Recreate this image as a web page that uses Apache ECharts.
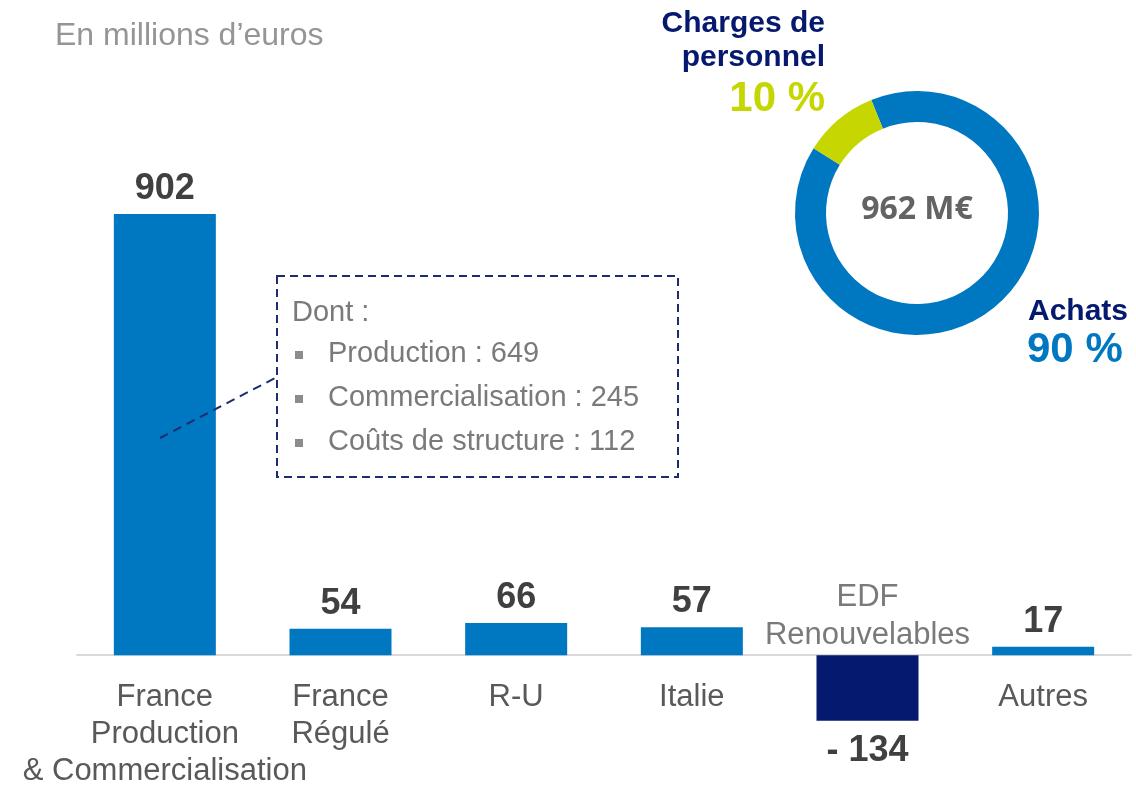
<!DOCTYPE html>
<html>
<head>
<meta charset="utf-8">
<script src="https://cdn.jsdelivr.net/npm/echarts@6/dist/echarts.min.js"></script>
<style>
  html, body { margin: 0; padding: 0; background: #fff; }
  #chart { width: 1136px; height: 785px; }
</style>
</head>
<body>
<div id="chart"></div>
<script>
// données
const categories = ['France\nProduction\n& Commercialisation', 'France\nRégulé', 'R-U', 'Italie', 'EDF\nRenouvelables', 'Autres'];
const values = [902, 54, 66, 57, -134, 17];
const splitNames = ['Achats', 'Charges de\npersonnel'];
const splitShares = [90, 10];
const totalLabel = '962 M€';
const detailNames = ['Production', 'Commercialisation', 'Coûts de structure'];
const detailValues = [649, 245, 112];

const BLUE = '#0078c1';
const NAVY = '#051a6e';
const GREEN = '#c5d600';
const FONT = '"Liberation Sans", Arial, sans-serif';

const Y_MIN = -200, Y_MAX = 1000;
const GRID_TOP = 166, GRID_BOTTOM = 32, H = 785;
// décale l'axe des catégories sur la ligne du zéro
const gridH = H - GRID_TOP - GRID_BOTTOM;
const zeroOffset = -gridH * (-Y_MIN) / (Y_MAX - Y_MIN);

const chart = echarts.init(document.getElementById('chart'));

// barres : couleur foncée + étiquette en dessous pour la valeur négative
const barData = values.map(v => {
  const item = { value: v, itemStyle: { color: v < 0 ? NAVY : BLUE } };
  if (v < 0) item.label = { position: 'bottom', distance: 12 };
  return item;
});

// le libellé d'une catégorie négative passe au-dessus de l'axe
const aboveLabels = values.map(v => (v < 0 ? 0 : '-'));

// encadré "Dont :"
const boxText = [
  { type: 'text', x: 292, y: 313, style: { text: 'Dont :', font: '29px ' + FONT, fill: '#7a7a7a', textVerticalAlign: 'middle' } }
];
detailNames.forEach((n, i) => {
  const y = [354, 398, 442][i];
  boxText.push({ type: 'rect', shape: { x: 295, y: y - 3, width: 8, height: 8 }, style: { fill: '#8c8c8c' } });
  boxText.push({ type: 'text', x: 328, y: y, style: { text: n + ' : ' + detailValues[i], font: '29px ' + FONT, fill: '#7a7a7a', textVerticalAlign: 'middle' } });
});

const option = {
  animation: false,
  backgroundColor: '#fff',
  grid: { left: 77, right: 5, top: GRID_TOP, bottom: GRID_BOTTOM, containLabel: false, outerBoundsMode: 'none' },
  xAxis: {
    type: 'category',
    data: categories,
    offset: zeroOffset,
    axisTick: { show: false },
    axisLine: { onZero: false, lineStyle: { color: '#d9d9d9', width: 2 } },
    axisLabel: {
      interval: 0,
      margin: 24,
      color: '#595959',
      fontSize: 31,
      lineHeight: 37,
      fontFamily: FONT,
      formatter: (val, idx) => (values[idx] < 0 ? '' : val)
    }
  },
  yAxis: {
    type: 'value',
    min: Y_MIN,
    max: Y_MAX,
    show: false,
    splitLine: { show: false }
  },
  series: [
    {
      type: 'bar',
      data: barData,
      barWidth: 102,
      silent: true,
      label: {
        show: true,
        position: 'top',
        distance: 7,
        color: '#404040',
        fontSize: 36,
        fontWeight: 'bold',
        fontFamily: FONT,
        formatter: p => (p.value < 0 ? '- ' + Math.abs(p.value) : String(p.value))
      }
    },
    {
      type: 'scatter',
      data: aboveLabels,
      symbolSize: 1,
      itemStyle: { color: 'rgba(0,0,0,0)' },
      silent: true,
      label: {
        show: true,
        position: 'top',
        distance: 0,
        color: '#595959',
        fontSize: 31,
        lineHeight: 38,
        fontFamily: FONT,
        formatter: p => categories[p.dataIndex]
      }
    },
    {
      type: 'pie',
      center: [917, 213],
      radius: [91, 122],
      startAngle: 112,
      clockwise: true,
      silent: true,
      label: { show: false },
      labelLine: { show: false },
      itemStyle: { borderWidth: 0 },
      data: splitNames.map((n, i) => ({ name: n, value: splitShares[i], itemStyle: { color: i === 0 ? BLUE : GREEN } }))
    }
  ],
  graphic: [
    { type: 'text', x: 55, y: 36, style: { text: 'En millions d’euros', font: '32px ' + FONT, fill: '#959595', textVerticalAlign: 'middle' } },
    { type: 'text', x: 917, y: 210, style: { text: totalLabel, font: 'bold 32px "Open Sans", sans-serif', fill: '#636363', textAlign: 'center', textVerticalAlign: 'middle' } },
    { type: 'text', x: 825, y: 41, style: { text: splitNames[1], font: 'bold 30px ' + FONT, lineHeight: 34, fill: NAVY, textAlign: 'right', textVerticalAlign: 'middle' } },
    { type: 'text', x: 825, y: 99, style: { text: splitShares[1] + ' %', font: 'bold 42px ' + FONT, fill: GREEN, textAlign: 'right', textVerticalAlign: 'middle' } },
    { type: 'text', x: 1128, y: 312, style: { text: splitNames[0], font: 'bold 30px ' + FONT, fill: NAVY, textAlign: 'right', textVerticalAlign: 'middle' } },
    { type: 'text', x: 1027, y: 350, style: { text: splitShares[0] + ' %', font: 'bold 42px ' + FONT, fill: BLUE, textVerticalAlign: 'middle' } },
    { type: 'rect', shape: { x: 277, y: 276, width: 401, height: 201 }, style: { fill: 'none', stroke: '#1d2b70', lineWidth: 2, lineDash: [8, 5] } },
    { type: 'line', shape: { x1: 160, y1: 438, x2: 277, y2: 377 }, style: { stroke: '#1d2b70', lineWidth: 2, lineDash: [9, 6] }, z: 10 }
  ].concat(boxText)
};

chart.setOption(option);
</script>
</body>
</html>
